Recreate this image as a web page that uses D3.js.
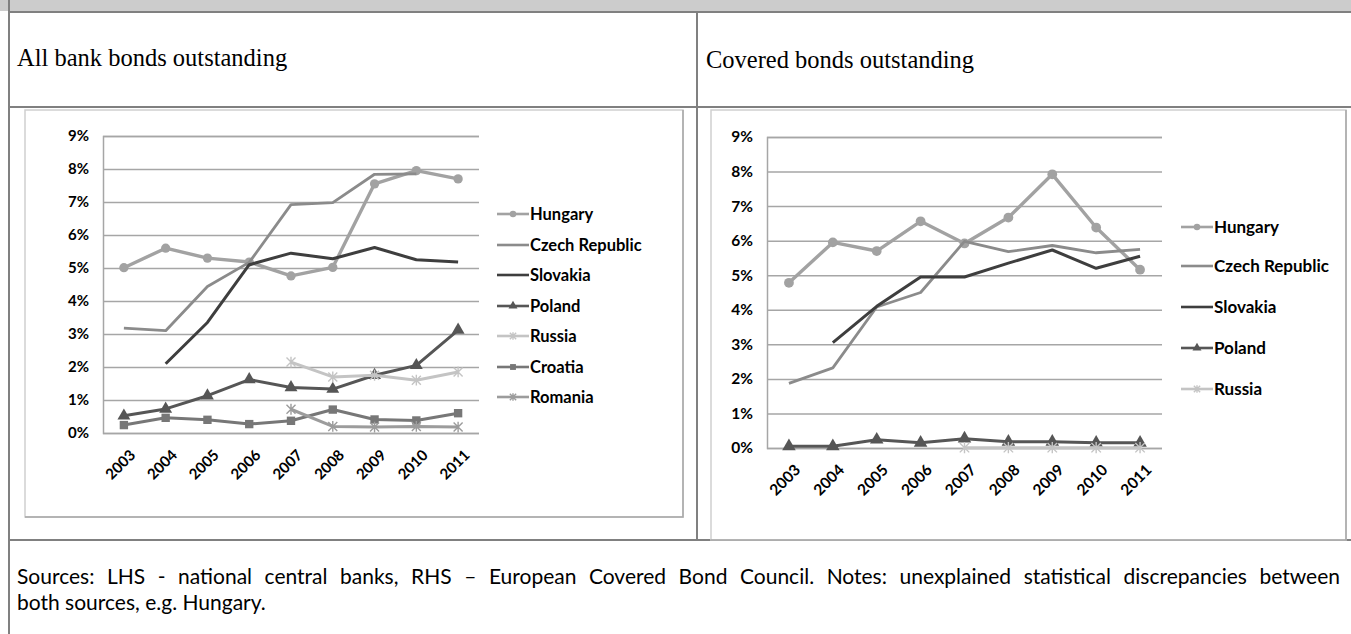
<!DOCTYPE html>
<html>
<head>
<meta charset="utf-8">
<script src="https://cdn.jsdelivr.net/npm/d3@7"></script>
<style>
  body { margin: 0; background: #fff; }
  svg { display: block; }
</style>
</head>
<body>
<script>
// categories + ticks
const years = ["2003", "2004", "2005", "2006", "2007", "2008", "2009", "2010", "2011"];
const yTicks = [0, 1, 2, 3, 4, 5, 6, 7, 8, 9];

// LHS - all bank bonds outstanding (%)
const hungaryAll  = [5.01, 5.60, 5.30, 5.18, 4.76, 5.02, 7.55, 7.95, 7.70];
const czechAll    = [3.18, 3.10, 4.44, 5.17, 6.92, 6.98, 7.84, 7.85, null];
const slovakiaAll = [null, 2.10, 3.35, 5.10, 5.45, 5.28, 5.62, 5.25, 5.18];
const polandAll   = [0.52, 0.73, 1.13, 1.62, 1.38, 1.33, 1.75, 2.05, 3.12];
const russiaAll   = [null, null, null, null, 2.15, 1.70, 1.75, 1.60, 1.85];
const croatiaAll  = [0.24, 0.46, 0.40, 0.27, 0.37, 0.71, 0.41, 0.38, 0.60];
const romaniaAll  = [null, null, null, null, 0.72, 0.20, 0.18, 0.20, 0.18];

// RHS - covered bonds outstanding
const hungaryCov  = [4.78, 5.95, 5.70, 6.56, 5.92, 6.67, 7.92, 6.38, 5.16];
const czechCov    = [1.87, 2.32, 4.08, 4.50, 5.98, 5.68, 5.86, 5.65, 5.75];
const slovakiaCov = [null, 3.05, 4.10, 4.95, 4.95, 5.35, 5.73, 5.20, 5.55];
const polandCov   = [0.05, 0.05, 0.24, 0.15, 0.27, 0.18, 0.18, 0.15, 0.15];
const russiaCov   = [null, null, null, null, 0.01, 0.01, 0.01, 0.01, 0.01];

const headLeft = "All bank bonds outstanding";
const headRight = "Covered bonds outstanding";
const noteLine1 = "Sources: LHS - national central banks, RHS \u2013 European Covered Bond Council.  Notes: unexplained statistical discrepancies between";
const noteLine2 = "both sources, e.g. Hungary.";

const W = 1351, H = 634;
const chartFont = "Lato, 'Open Sans', sans-serif";

// look of each country (same in both panels)
const styles = {
  "Hungary":        { color: "#a2a2a2", width: 3.4, marker: "circle" },
  "Czech Republic": { color: "#8b8b8b", width: 2.8, marker: null },
  "Slovakia":       { color: "#3e3e3e", width: 3,   marker: null },
  "Poland":         { color: "#565656", width: 3,   marker: "triangle" },
  "Russia":         { color: "#c4c4c4", width: 3,   marker: "star" },
  "Croatia":        { color: "#777777", width: 3,   marker: "square" },
  "Romania":        { color: "#9c9c9c", width: 3,   marker: "star" }
};

const svg = d3.select("body").append("svg")
  .attr("width", W)
  .attr("height", H);

svg.append("rect").attr("width", W).attr("height", H).attr("fill", "#fff");

// table frame
svg.append("rect").attr("x", 0).attr("y", 0).attr("width", W).attr("height", 11).attr("fill", "#cccccc");
const frame = svg.append("g").attr("stroke", "#808080").attr("stroke-width", 2);
frame.append("line").attr("x1", 9).attr("x2", 9).attr("y1", 0).attr("y2", H);
frame.append("line").attr("x1", 8).attr("x2", W).attr("y1", 12).attr("y2", 12);
frame.append("line").attr("x1", 8).attr("x2", W).attr("y1", 107).attr("y2", 107);
frame.append("line").attr("x1", 8).attr("x2", W).attr("y1", 540).attr("y2", 540);
frame.append("line").attr("x1", 697).attr("x2", 697).attr("y1", 12).attr("y2", 540);

// headers
const serif = "'Liberation Serif', 'Times New Roman', serif";
svg.append("text").attr("x", 17).attr("y", 66)
  .attr("font-family", serif).attr("font-size", 24.5).text(headLeft);
svg.append("text").attr("x", 706).attr("y", 68)
  .attr("font-family", serif).attr("font-size", 24.5).text(headRight);

// picture boxes
function box(x, y, w, h) {
  svg.append("rect").attr("x", x).attr("y", y).attr("width", w).attr("height", h)
    .attr("fill", "#fff").attr("stroke", "#cfcfcf").attr("stroke-width", 1.5);
  svg.append("path")
    .attr("d", `M${x + w},${y} V${y + h} H${x}`)
    .attr("fill", "none").attr("stroke", "#a8a8a8").attr("stroke-width", 1.5);
}
box(25, 110, 658, 407);
box(711, 110, 635, 430);

function drawMarker(g, type, color, cx, cy, k) {
  if (!type) return;
  if (type === "star") {
    const r = 4.5 * k;
    g.append("path")
      .attr("d", `M${cx - r},${cy - r}L${cx + r},${cy + r}M${cx - r},${cy + r}L${cx + r},${cy - r}M${cx},${cy - r * 1.2}L${cx},${cy + r * 1.2}`)
      .attr("stroke", color).attr("stroke-width", 1.4).attr("fill", "none");
    return;
  }
  const sym = { circle: d3.symbolCircle, triangle: d3.symbolTriangle, square: d3.symbolSquare }[type];
  const size = { circle: 68, triangle: 72, square: 70 }[type] * k * k;
  g.append("path")
    .attr("d", d3.symbol(sym, size)())
    .attr("transform", `translate(${cx},${cy})`)
    .attr("fill", color);
}

function drawChart(cfg) {
  const g = svg.append("g");
  const x = d3.scalePoint().domain(years).range([cfg.left, cfg.right]).padding(0.5);
  const y = d3.scaleLinear().domain([0, 9]).range([cfg.bottom, cfg.top]);

  // gridlines + y labels
  const ya = g.append("g")
    .attr("transform", `translate(${cfg.left},0)`)
    .call(d3.axisLeft(y).tickValues(yTicks).tickSize(-(cfg.right - cfg.left))
      .tickPadding(14).tickFormat(d => d + "%"));
  ya.select(".domain").attr("stroke", "#a6a6a6").attr("stroke-width", 1.5);
  ya.selectAll(".tick line").attr("stroke", "#a6a6a6").attr("stroke-width", 1.5);
  ya.selectAll(".tick text")
    .attr("font-family", chartFont).attr("font-weight", "bold")
    .attr("font-size", cfg.fs).attr("fill", "#000");

  // x labels, slanted
  const xa = g.append("g")
    .attr("transform", `translate(0,${cfg.bottom})`)
    .call(d3.axisBottom(x).tickSize(0));
  xa.select(".domain").remove();
  xa.selectAll(".tick text")
    .attr("font-family", chartFont).attr("font-weight", "bold")
    .attr("font-size", cfg.fs).attr("fill", "#000")
    .attr("text-anchor", "end")
    .attr("x", 0).attr("y", 0).attr("dy", 0)
    .attr("transform", "translate(12,23) rotate(-45)");

  const line = d3.line()
    .defined(d => d != null)
    .x((d, i) => x(years[i]))
    .y(d => y(d));

  cfg.series.forEach(s => {
    const st = styles[s.name];
    g.append("path")
      .attr("d", line(s.values))
      .attr("fill", "none")
      .attr("stroke", st.color)
      .attr("stroke-width", st.width)
      .attr("stroke-linejoin", "round");
    s.values.forEach((v, i) => {
      if (v == null) return;
      drawMarker(g, st.marker, st.color, x(years[i]), y(v), cfg.mk);
    });
  });

  // legend
  cfg.series.forEach((s, i) => {
    const st = styles[s.name];
    const ly = cfg.legendY[i];
    g.append("line")
      .attr("x1", cfg.legendX).attr("x2", cfg.legendX + 32)
      .attr("y1", ly).attr("y2", ly)
      .attr("stroke", st.color).attr("stroke-width", Math.min(st.width, 2.6));
    drawMarker(g, st.marker, st.color, cfg.legendX + 16, ly, 0.7);
    g.append("text")
      .attr("x", cfg.legendX + 33).attr("y", ly).attr("dy", "0.36em")
      .attr("font-family", chartFont).attr("font-weight", "bold")
      .attr("font-size", cfg.lfs).attr("fill", "#000")
      .text(s.name);
  });
}

drawChart({
  left: 103, right: 479, top: 136, bottom: 433, fs: 15, lfs: 16.5, mk: 1,
  legendX: 497, legendY: [214, 245, 275, 306, 336, 367, 397],
  series: [
    { name: "Hungary", values: hungaryAll },
    { name: "Czech Republic", values: czechAll },
    { name: "Slovakia", values: slovakiaAll },
    { name: "Poland", values: polandAll },
    { name: "Russia", values: russiaAll },
    { name: "Croatia", values: croatiaAll },
    { name: "Romania", values: romaniaAll }
  ]
});

drawChart({
  left: 767, right: 1162, top: 137, bottom: 448, fs: 15.5, lfs: 17, mk: 1.05,
  legendX: 1181, legendY: [227, 266, 307, 348, 389],
  series: [
    { name: "Hungary", values: hungaryCov },
    { name: "Czech Republic", values: czechCov },
    { name: "Slovakia", values: slovakiaCov },
    { name: "Poland", values: polandCov },
    { name: "Russia", values: russiaCov }
  ]
});

// footnote: first line justified across the cell
const noteFont = "Lato, 'Open Sans', sans-serif";
const noteSize = 21;
const noteLeft = 17, noteRight = 1340;
const words = noteLine1.split(/\s+/);
const tmp = svg.append("g");
const widths = words.map(w => {
  const t = tmp.append("text").attr("font-family", noteFont).attr("font-size", noteSize).text(w);
  const len = t.node().getComputedTextLength();
  t.remove();
  return len;
});
tmp.remove();
const gap = (noteRight - noteLeft - d3.sum(widths)) / (words.length - 1);
let cx = noteLeft;
words.forEach((w, i) => {
  svg.append("text").attr("x", cx).attr("y", 584)
    .attr("font-family", noteFont).attr("font-size", noteSize).attr("fill", "#000")
    .text(w);
  cx += widths[i] + gap;
});
svg.append("text").attr("x", noteLeft).attr("y", 610)
  .attr("font-family", noteFont).attr("font-size", noteSize).attr("fill", "#000")
  .text(noteLine2);
</script>
</body>
</html>
